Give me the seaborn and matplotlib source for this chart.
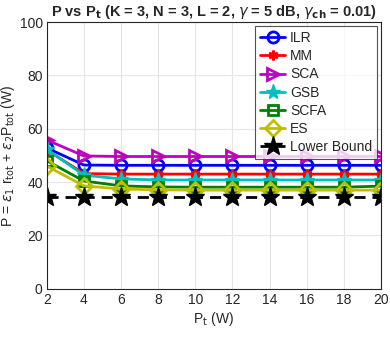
"""
P vs Pt comparison of power allocation schemes.
"""

import matplotlib
matplotlib.use("Agg")
import matplotlib.pyplot as plt
import pandas as pd
import seaborn as sns

pt = [2, 4, 6, 8, 10, 12, 14, 16, 18, 20]
ilr = [52.8, 46.4, 46.3, 46.3, 46.3, 46.3, 46.3, 46.3, 46.3, 46.3]
mm = [52.0, 43.2, 43.0, 43.0, 43.0, 43.0, 43.0, 43.0, 43.0, 43.0]
sca = [55.8, 49.8, 49.6, 49.6, 49.6, 49.6, 49.6, 49.6, 49.6, 49.6]
gsb = [52.3, 42.6, 41.2, 40.8, 40.8, 40.8, 40.8, 40.8, 40.8, 40.8]
scfa = [48.0, 40.4, 38.6, 38.2, 38.1, 38.1, 38.1, 38.1, 38.1, 38.5]
es = [46.0, 38.6, 37.4, 37.1, 37.0, 37.0, 37.0, 37.0, 37.0, 37.0]
lower = [34.4] * 10

series = ["ILR", "MM", "SCA", "GSB", "SCFA", "ES", "Lower Bound"]
values = [ilr, mm, sca, gsb, scfa, es, lower]

df = pd.DataFrame(
    [(x, name, v) for name, vals in zip(series, values) for x, v in zip(pt, vals)],
    columns=["Pt", "scheme", "P"],
)

sns.set_style("whitegrid")
plt.rcParams["font.family"] = ["Liberation Sans", "DejaVu Sans"]

colors = {"ILR": "#0000ff", "MM": "#ff0000", "SCA": "#bf00bf", "GSB": "#00bfbf",
          "SCFA": "#008000", "ES": "#bfbf00", "Lower Bound": "#000000"}
markers = {"ILR": "o", "MM": (6, 2, 0), "SCA": ">", "GSB": "*", "SCFA": "s", "ES": "D",
           "Lower Bound": "*"}
sizes = {"ILR": 8, "MM": 7, "SCA": 8, "GSB": 11, "SCFA": 7, "ES": 8, "Lower Bound": 14}

fig, ax = plt.subplots(figsize=(3.9, 3.39), dpi=100)
fig.subplots_adjust(left=0.12, right=0.977, top=0.935, bottom=0.148)

for name in series:
    sub = df[df["scheme"] == name]
    hollow = name in ("ILR", "SCA", "SCFA", "ES")
    sns.lineplot(data=sub, x="Pt", y="P", ax=ax, color=colors[name],
                 linewidth=2, linestyle=(0, (4, 2.5)) if name == "Lower Bound" else "-",
                 marker=markers[name], markersize=sizes[name],
                 markerfacecolor="none" if hollow else colors[name],
                 markeredgecolor=colors[name],
                 markeredgewidth=2 if hollow or name == "MM" else 1,
                 label=name)

ax.set_xlim(2, 20)
ax.set_ylim(0, 100)
ax.set_xticks(pt)
ax.set_yticks([0, 20, 40, 60, 80, 100])
ax.tick_params(labelsize=10, colors="#262626", length=0, pad=3)
ax.grid(color="#e6e6e6", linewidth=0.8)
for s in ax.spines.values():
    s.set_color("#262626")
    s.set_linewidth(0.8)

ax.set_xlabel(r"P$_\mathrm{t}$ (W)", fontsize=10, color="#262626", labelpad=2)
ax.set_ylabel(r"P = $\epsilon_1$ r$_\mathrm{tot}$ + $\epsilon_2$P$_\mathrm{tot}$ (W)",
              fontsize=10, color="#262626", labelpad=2)
ax.set_title(r"P vs P$_\mathbf{t}$ (K = 3, N = 3, L = 2, $\gamma$ = 5 dB, $\gamma_\mathbf{ch}$ = 0.01)",
             fontsize=10.5, fontweight="bold", pad=4)

leg = ax.legend(loc="upper right", fontsize=10, frameon=True, fancybox=False,
                edgecolor="#262626", borderaxespad=0.3, handlelength=1.8,
                labelspacing=0.3, borderpad=0.35, handletextpad=0.35)
leg.get_frame().set_linewidth(0.8)

fig.savefig("out.png", dpi=100)
plt.close(fig)
